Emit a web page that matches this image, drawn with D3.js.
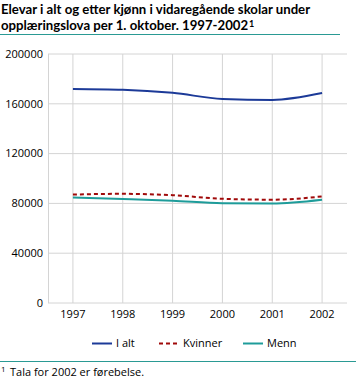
<!DOCTYPE html>
<html><head><meta charset="utf-8">
<script src="https://cdn.jsdelivr.net/npm/d3@7/dist/d3.min.js"></script>
<style>body{margin:0;background:#fff}svg{display:block;font-family:"Open Sans",sans-serif}</style>
</head><body><svg id="c" width="356" height="380"></svg>
<script>
const years = ["1997","1998","1999","2000","2001","2002"];
const iAlt = [171900, 171300, 168800, 163900, 163100, 168600];
const kvinner = [87100, 87700, 86600, 83700, 83000, 85600];
const menn = [84800, 83600, 82200, 80200, 80000, 83000];
const yTicks = [0, 40000, 80000, 120000, 160000, 200000];
const seriesNames = ["I alt", "Kvinner", "Menn"];

const svg = d3.select("#c");
const L = 48, R = 347, T = 54, B = 303;
const x = d3.scalePoint().domain(years).range([L, R]).padding(0.5);
const y = d3.scaleLinear().domain([0, 200000]).range([B, T]);
const grid = "#d4d4d4";

// Title
const tf = "Lato, 'Open Sans', sans-serif";
const t1 = svg.append("text").attr("x", 1).attr("y", 14).attr("font-family", tf).attr("font-weight", "bold").attr("font-size", 13)
  .text("Elevar i alt og etter kjønn i vidaregående skolar under");
const w1 = t1.node().getComputedTextLength();
const fs = Math.min(13.2, 13 * 339 / w1);
t1.attr("font-size", fs);
const t2 = svg.append("text").attr("x", 1).attr("y", 30).attr("font-family", tf).attr("font-weight", "bold").attr("font-size", fs)
  .text("opplæringslova per 1. oktober. 1997-2002");
const w2 = t2.node().getComputedTextLength();
svg.append("text").attr("x", 1 + w2 + 1).attr("y", 26.5).attr("font-family", tf).attr("font-weight", "bold").attr("font-size", 9).text("1");
svg.append("line").attr("x1", 0).attr("x2", 340).attr("y1", 34.5).attr("y2", 34.5).attr("stroke", "#2a9a94").attr("stroke-width", 1);

// grid
svg.append("g").selectAll("line").data(yTicks).join("line")
  .attr("x1", L).attr("x2", R).attr("y1", d => y(d)).attr("y2", d => y(d))
  .attr("stroke", grid);
svg.append("g").selectAll("line").data(years).join("line")
  .attr("x1", d => x(d)).attr("x2", d => x(d)).attr("y1", T).attr("y2", B)
  .attr("stroke", grid);
svg.append("line").attr("x1", L + 0.5).attr("x2", L + 0.5).attr("y1", T).attr("y2", B).attr("stroke", grid);

// axes labels
svg.append("g").selectAll("text").data(yTicks).join("text")
  .attr("x", 43).attr("y", d => y(d)).attr("dy", "0.35em").attr("text-anchor", "end")
  .attr("font-size", 11).attr("fill", "#000").text(d => d);
svg.append("g").selectAll("text").data(years).join("text")
  .attr("x", d => x(d)).attr("y", 318).attr("text-anchor", "middle")
  .attr("font-size", 11).attr("fill", "#000").text(d => d);

const colors = ["#1c3a98", "#a00a0a", "#1e9c9a"];
const dashes = [null, "4,3", null];
const data = [iAlt, kvinner, menn];
const line = d3.line().x((d, i) => x(years[i])).y(d => y(d)).curve(d3.curveMonotoneX);
[2, 1, 0].forEach(k => {
  svg.append("path").datum(data[k]).attr("d", line).attr("fill", "none")
    .attr("stroke", colors[k]).attr("stroke-width", 2).attr("stroke-dasharray", dashes[k]);
});

// legend
const legX = [92, 159, 243];
const lg = svg.append("g");
seriesNames.forEach((n, k) => {
  lg.append("line").attr("x1", legX[k]).attr("x2", legX[k] + 20).attr("y1", 343.5).attr("y2", 343.5)
    .attr("stroke", colors[k]).attr("stroke-width", 2).attr("stroke-dasharray", dashes[k]);
  lg.append("text").attr("x", legX[k] + 24).attr("y", 343).attr("dy", "0.35em")
    .attr("font-size", 11).attr("fill", "#000").text(n);
});

// footer
svg.append("line").attr("x1", 0).attr("x2", 356).attr("y1", 361.5).attr("y2", 361.5).attr("stroke", "#2a9a94");
svg.append("text").attr("x", 1).attr("y", 372).attr("font-size", 8).text("1");
svg.append("text").attr("x", 10).attr("y", 376).attr("font-size", 11).text("Tala for 2002 er førebelse.");
</script></body></html>
